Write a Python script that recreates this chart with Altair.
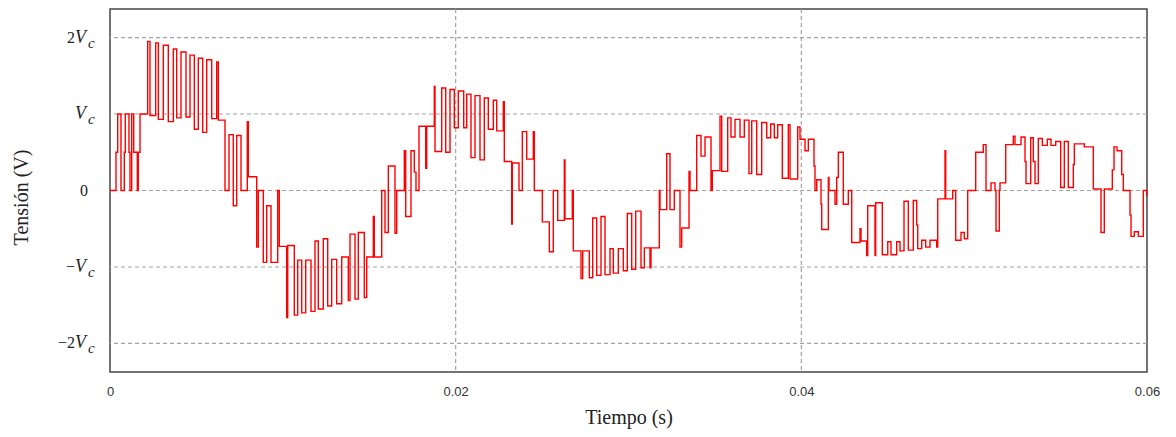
import altair as alt
import pandas as pd

# step waveform: switching instants (ms) and level after each instant (units of Vc)
t_ms = [
    0.0, 0.347, 0.446, 0.636, 0.827, 0.885, 1.099, 1.157, 1.256, 1.371, 1.580, 1.637, 1.736,
    2.181, 2.314, 2.644, 2.795, 3.084, 3.373, 3.663, 3.859, 4.108, 4.397, 4.629, 4.878,
    5.109, 5.364, 5.595, 5.884, 6.174, 6.266, 6.654, 6.885, 7.134, 7.331, 7.580, 7.944,
    8.002, 8.488, 8.581, 8.870, 9.067, 9.315, 9.703, 9.796, 10.224, 10.282, 10.663, 10.860,
    11.092, 11.323, 11.630, 11.861, 12.052, 12.341, 12.596, 12.827, 13.117, 13.406, 13.788,
    13.886, 14.176, 14.367, 14.714, 14.853, 15.235, 15.292, 15.721, 15.912, 16.103, 16.490,
    16.588, 17.028, 17.109, 17.416, 17.607, 17.705, 17.879, 18.266, 18.324, 18.764, 18.805,
    19.192, 19.424, 19.672, 19.921, 20.153, 20.465, 20.639, 20.887, 21.119, 21.408, 21.657,
    21.888, 22.178, 22.374, 22.756, 22.814, 23.242, 23.277, 23.665, 23.856, 24.110, 24.492,
    24.550, 25.013, 25.418, 25.649, 25.904, 26.286, 26.326, 26.749, 26.807, 27.252, 27.350,
    27.732, 27.929, 28.160, 28.409, 28.641, 28.930, 29.121, 29.410, 29.700, 29.931, 30.186,
    30.417, 30.724, 30.915, 31.244, 31.302, 31.783, 31.823, 32.211, 32.402, 32.650, 32.980,
    33.079, 33.501, 33.559, 33.946, 34.195, 34.427, 34.774, 34.849, 35.295, 35.393, 35.740,
    35.931, 36.163, 36.452, 36.700, 36.972, 37.129, 37.418, 37.707, 37.997, 38.228, 38.436,
    38.633, 38.899, 39.247, 39.345, 39.790, 39.923, 40.213, 40.404, 40.733, 40.791, 40.890,
    41.138, 41.179, 41.561, 41.601, 41.949, 42.047, 42.140, 42.429, 42.718, 42.915, 43.395,
    43.453, 43.783, 43.841, 44.263, 44.303, 44.685, 45.000, 45.189, 45.518, 45.709, 45.941,
    46.190, 46.479, 46.676, 46.734, 46.965, 47.196, 47.445, 47.833, 47.891, 48.313, 48.354,
    48.759, 48.932, 49.239, 49.430, 49.626, 50.089, 50.529, 50.685, 50.975, 51.206, 51.264,
    51.455, 51.495, 51.825, 52.265, 52.363, 52.710, 52.942, 53.000, 53.272, 53.422, 53.521,
    53.711, 53.943, 54.232, 54.446, 54.718, 55.007, 55.216, 55.447, 55.737, 55.795, 56.373,
    56.894, 57.339, 57.530, 57.993, 58.091, 58.265, 58.537, 58.630, 59.017, 59.075, 59.266,
    59.497, 59.787, 59.983, 60.0,
]
v_level = [
    0, 0.5, 1, 0, 0.5, 1, 0.5, 0, 1, 0.5, 0, 0.5, 1,
    1.95, 0.98, 1.93, 0.93, 1.9, 0.9, 1.85, 0.95, 1.81, 0.96, 1.77, 0.8,
    1.73, 0.76, 1.71, 0.94, 1.68, 0.92, 0, 0.73, -0.2, 0.72, 0, 0.9,
    0.18, -0.74, 0, -0.94, -0.2, -0.94, 0, -0.73, -1.66, -0.72, -1.63, -0.91,
    -1.6, -0.91, -1.58, -0.66, -1.55, -0.63, -1.51, -0.9, -1.48, -0.87, -1.44,
    -0.57, -1.42, -0.55, -1.4, -0.87, -0.34, -0.87, 0, -0.55, 0.32, -0.56,
    0, 0.52, -0.34, 0.52, 0.24, 0, 0.84, 0.29, 0.84, 1.36, 0.51,
    1.34, 0.5, 1.32, 0.82, 1.3, 0.82, 1.26, 0.43, 1.24, 0.4, 1.21,
    0.8, 1.18, 0.78, 1.16, 0.38, -0.44, 0.36, 0, 0.77, 0.41, 0.77,
    0, -0.41, -0.8, 0, -0.39, 0.4, -0.37, 0, -0.79, -1.15, -0.79,
    -1.14, -0.36, -1.11, -0.34, -1.1, -0.76, -1.08, -0.76, -1.05, -0.3, -1.03,
    -0.27, -1.01, -0.75, -1.01, -0.75, 0, -0.25, 0.48, -0.25, 0, -0.74,
    -0.49, 0.25, 0, 0.72, 0.45, 0.7, 0, 0.26, 0.97, 0.25, 0.95,
    0.7, 0.93, 0.7, 0.92, 0.22, 0.91, 0.21, 0.89, 0.69, 0.87, 0.69,
    0.86, 0.16, 0.86, 0.15, 0.83, 0.67, 0.52, 0.67, 0.32, 0, 0.14,
    -0.18, -0.51, 0.17, 0, -0.18, 0.17, 0.5, -0.18, 0, -0.68, -0.5,
    -0.66, -0.85, -0.2, -0.85, -0.16, -0.84, -0.67, -0.84, -0.67, -0.79, -0.14,
    -0.78, -0.13, -0.45, -0.76, -0.65, -0.74, -0.65, -0.74, -0.11, 0.52, -0.11,
    0, -0.65, -0.55, -0.63, 0, 0.5, 0.6, 0, 0.1, 0, -0.53,
    0, 0.1, 0.6, 0.71, 0.6, 0.7, 0.38, 0.09, 0.69, 0.38, 0.09,
    0.68, 0.59, 0.67, 0.59, 0.64, 0.04, 0.64, 0.04, 0.34, 0.61, 0.57,
    0.02, -0.55, 0.02, 0.27, 0.57, 0.52, 0.21, 0, -0.32, -0.6, -0.54,
    -0.6, 0, -0.07, -0.07,
]

y_ticks = [2, 1, 0, -1, -2]
y_pre = ["2", "", "", "\u2212", "\u22122"]
y_sym = ["V", "V", "", "V", "V"]
y_sub = ["c", "c", "", "c", "c"]
zero_text = ["0"]
zero_val = [0]
x_grid = [0.02, 0.04]
x_ticks = [0, 0.02, 0.04, 0.06]

wave = pd.DataFrame({"t": [x / 1000.0 for x in t_ms], "v": v_level})
lab = pd.DataFrame({"val": y_ticks, "pre": y_pre, "sym": y_sym, "sub": y_sub})
zlab = pd.DataFrame({"val": zero_val, "txt": zero_text})

xs = alt.Scale(domain=[0, 0.06], nice=False, zero=False)
ys = alt.Scale(domain=[-2.373, 2.373], nice=False, zero=False)

SERIF = "Liberation Serif"
GRID = "#a3a3a3"

x_axis = alt.Axis(
    values=x_ticks, format=".2~f", title="Tiempo (s)",
    grid=False, ticks=False, tickSize=0, domain=False, labelFlush=False,
    labelFont="Liberation Sans", labelFontSize=13, labelColor="#333333",
    labelPadding=13,
    titleFont=SERIF, titleFontSize=20, titleFontWeight="normal",
    titleColor="#222222", titleY=51, titleBaseline="alphabetic",
)
y_axis = alt.Axis(
    labels=False, ticks=False, domain=False, grid=False,
    title="Tensión (V)", titleFont=SERIF, titleFontSize=20,
    titleFontWeight="normal", titleColor="#222222",
    titleAngle=270, titleX=-83, titleY=188,
    titleBaseline="alphabetic", titleAlign="center",
)

grid_y = alt.Chart(pd.DataFrame({"val": y_ticks})).mark_rule(
    color=GRID, strokeDash=[4, 3], strokeWidth=1.2
).encode(y=alt.Y("val:Q", scale=ys, axis=y_axis, title="Tensión (V)"))

grid_x = alt.Chart(pd.DataFrame({"t": x_grid})).mark_rule(
    color=GRID, strokeDash=[4, 3], strokeWidth=1.2
).encode(x=alt.X("t:Q", scale=xs, axis=x_axis, title="Tiempo (s)"))

line = alt.Chart(wave).mark_line(
    interpolate="step-after", color="#ff0000", strokeWidth=1.4
).encode(
    x=alt.X("t:Q", scale=xs, axis=x_axis, title="Tiempo (s)"),
    y=alt.Y("v:Q", scale=ys, axis=y_axis, title="Tensión (V)"),
)

Yenc = alt.Y("val:Q", scale=ys, axis=y_axis, title="Tensión (V)")

pre_t = alt.Chart(lab).mark_text(
    align="right", baseline="alphabetic", font=SERIF, fontSize=16, dy=5, color="#222222"
).encode(x=alt.value(-35), y=Yenc, text="pre:N")

sym_t = alt.Chart(lab).mark_text(
    align="left", baseline="alphabetic", font=SERIF, fontSize=18, fontStyle="italic",
    dy=5, color="#222222"
).encode(x=alt.value(-35), y=Yenc, text="sym:N")

sub_t = alt.Chart(lab).mark_text(
    align="left", baseline="alphabetic", font=SERIF, fontSize=15, fontStyle="italic",
    dy=10, color="#222222"
).encode(x=alt.value(-22), y=Yenc, text="sub:N")

zero_t = alt.Chart(zlab).mark_text(
    align="center", baseline="alphabetic", font=SERIF, fontSize=16, dy=5, color="#222222"
).encode(x=alt.value(-26), y=Yenc, text="txt:N")

chart = alt.layer(grid_y, grid_x, line, pre_t, sym_t, sub_t, zero_t).properties(
    width=1037, height=363,
    padding={"left": 102, "top": 1, "right": 21, "bottom": 57},
    autosize=alt.AutoSizeParams(type="none"),
    background="white",
).configure_view(stroke="#454545", strokeWidth=1.5)

chart.save("out.html", embed_options={"renderer": "svg", "actions": False})
